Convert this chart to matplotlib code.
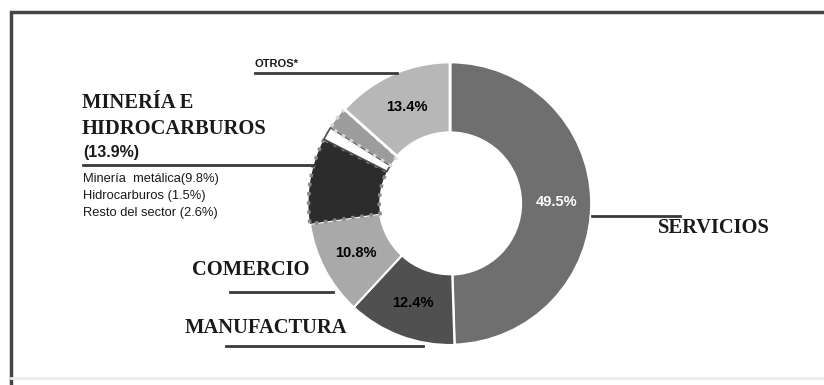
import matplotlib
matplotlib.use("Agg")
import matplotlib.pyplot as plt
from matplotlib.patches import Rectangle
import numpy as np

# ---- data ----
sectors = ["Servicios", "Manufactura", "Comercio", "Minería metálica",
           "Hidrocarburos", "Resto del sector", "Otros"]
shares = [49.5, 12.4, 10.8, 9.8, 1.5, 2.6, 13.4]
show_pct = [True, True, True, False, False, False, True]
mineria_total = 13.9

# ---- styles ----
colors = ["#6f6f6f", "#505050", "#a9a9a9", "#2c2c2c", "#ffffff", "#9c9c9c", "#b7b7b7"]
edgecolors = ["white", "white", "white", "#8a8a8a", "#4a4a4a", "#d8d8d8", "white"]
linestyles = ["-", "-", "-", ":", "-", ":", "-"]
linewidths = [2, 1.5, 1.5, 2.5, 1.2, 2.5, 2]
pct_colors = ["white", "black", "black", "black", "black", "black", "black"]

W, H = 824, 385
fig = plt.figure(figsize=(W / 100, H / 100), dpi=100)
ax = fig.add_axes([0, 0, 1, 1])

def py(y):
    return H - y

cx, cy, R = 450, 203.5, 141.5
wedges, _ = ax.pie(shares, colors=colors, startangle=90, counterclock=False,
                   radius=R, center=(cx, py(cy)), frame=True,
                   wedgeprops=dict(width=R * 0.5))
ax.set_xlim(0, W)
ax.set_ylim(0, H)
ax.set_aspect("equal")
ax.axis("off")
for w, ec, ls, lw in zip(wedges, edgecolors, linestyles, linewidths):
    w.set_edgecolor(ec)
    w.set_linestyle(ls)
    w.set_linewidth(lw)

# frame
ax.add_patch(Rectangle((11, py(400)), 900, 400 - 12, fill=False,
                       edgecolor="#454545", linewidth=2.5, zorder=0))
ax.plot([11, W], [py(378), py(378)], color="#eeeeee", lw=2, zorder=0)

# percentage labels
for w, v, s, c in zip(wedges, shares, show_pct, pct_colors):
    if not s:
        continue
    ang = np.deg2rad((w.theta1 + w.theta2) / 2)
    r = R * 0.75
    ax.text(cx + r * np.cos(ang), py(cy) + r * np.sin(ang), f"{v}%",
            ha="center", va="center", fontsize=10.5, fontweight="bold",
            color=c, family="Liberation Sans")

serif = dict(family="Liberation Serif", fontweight="bold", color="#1a1a1a")
sans = dict(family="Liberation Sans", color="#1a1a1a")
line_kw = dict(color="#3a3a3a", lw=2)
big = 14.8

# SERVICIOS
ax.plot([592, 680], [py(216), py(216)], **line_kw)
ax.text(658, py(228), "SERVICIOS", ha="left", va="center", fontsize=big, **serif)

# COMERCIO
ax.text(192, py(270), "COMERCIO", ha="left", va="center", fontsize=big, **serif)
ax.plot([230, 333], [py(292), py(292)], **line_kw)

# MANUFACTURA
ax.text(185, py(328), "MANUFACTURA", ha="left", va="center", fontsize=big, **serif)
ax.plot([226, 423], [py(346), py(346)], **line_kw)

# OTROS*
ax.text(255, py(64), "OTROS*", ha="left", va="center", fontsize=8, fontweight="bold", **sans)
ax.plot([255, 397], [py(73), py(73)], **line_kw)

# MINERÍA
ax.text(82, py(103), "MINERÍA E", ha="left", va="center", fontsize=big, **serif)
ax.text(82, py(129), "HIDROCARBUROS", ha="left", va="center", fontsize=big, **serif)
ax.text(83, py(152), f"({mineria_total}%)", ha="left", va="center", fontsize=11.5,
        fontweight="bold", **sans)
ax.plot([83, 313], [py(165), py(165)], **line_kw)
sub = [f"Minería  metálica({shares[3]}%)", f"Hidrocarburos ({shares[4]}%)",
       f"Resto del sector ({shares[5]}%)"]
for i, t in enumerate(sub):
    ax.text(83, py(179 + i * 17), t, ha="left", va="center", fontsize=9.3, **sans)

fig.savefig("out.png", dpi=100)
